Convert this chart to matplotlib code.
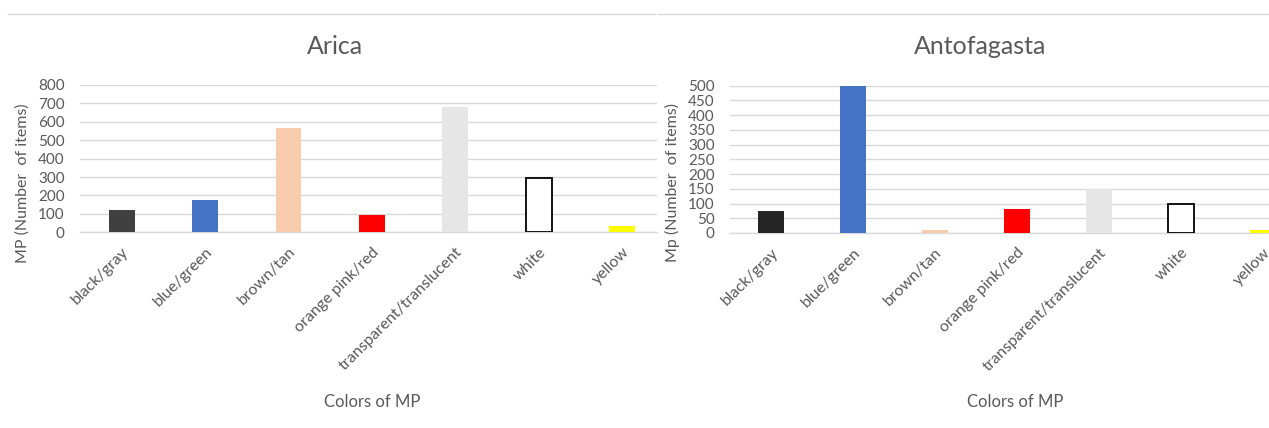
import matplotlib
matplotlib.use("Agg")
import matplotlib.pyplot as plt
from matplotlib.lines import Line2D

categories = ["black/gray", "blue/green", "brown/tan", "orange pink/red",
              "transparent/translucent", "white", "yellow"]
arica_values = [120, 175, 565, 96, 682, 293, 33]
antofagasta_values = [75, 500, 11, 80, 148, 100, 11]

arica_colors = ["#404040", "#4472C4", "#F8CBAD", "#FF0000", "#E7E6E6", "#FFFFFF", "#FFFF00"]
antof_colors = ["#262626", "#4472C4", "#F8CBAD", "#FF0000", "#E7E6E6", "#FFFFFF", "#FFFF00"]

W, H = 1269, 428
plt.rcParams['font.family'] = ['Lato', 'DejaVu Sans']
fig = plt.figure(figsize=(W / 100, H / 100), dpi=100)
fig.patch.set_facecolor("white")

TXT = "#595959"
GRID = "#D9D9D9"


def px_axes(x0, x1, ytop, ybot):
    return fig.add_axes([x0 / W, (H - ybot) / H, (x1 - x0) / W, (ybot - ytop) / H])


def draw(ax, values, colors, ymax, step, spacing, title, ylabel, title_x, xlabel_x, ylabel_x):
    x = list(range(len(categories)))
    bw = 0.31
    for xi, v, c in zip(x, values, colors):
        if c == "#FFFFFF":
            ax.bar(xi, v, width=bw, color="white", edgecolor="black", linewidth=1.3, zorder=3)
        else:
            ax.bar(xi, v, width=bw, color=c, zorder=3)
    width_px = ax.get_position().width * W
    ax.set_xlim(-0.5, -0.5 + width_px / spacing)
    ax.set_ylim(0, ymax)
    ax.set_yticks(range(0, ymax + 1, step))
    ax.yaxis.grid(True, color=GRID, linewidth=1.0, zorder=0)
    ax.set_axisbelow(True)
    for s in ["top", "right", "left"]:
        ax.spines[s].set_visible(False)
    ax.spines["bottom"].set_color(GRID)
    ax.spines["bottom"].set_linewidth(1.0)
    ax.tick_params(axis="both", length=0, colors=TXT)
    ax.tick_params(axis="y", labelsize=11, pad=11)
    ax.set_xticks(x)
    ax.set_xticklabels(categories, rotation=45, ha="right", va="top",
                       rotation_mode="anchor", fontsize=11.5, color=TXT)
    ax.tick_params(axis="x", pad=9)
    fig.text(title_x / W, 1 - 47 / H, title, ha="center", va="center", fontsize=18, color=TXT)
    fig.text(xlabel_x / W, 1 - 402 / H, "Colors of MP", ha="center", va="center", fontsize=12, color=TXT)
    fig.text(ylabel_x / W, 1 - 183 / H, ylabel, ha="center", va="center", rotation=90,
             fontsize=11.5, color=TXT)


ax1 = px_axes(80, 657, 85.0, 232.3)
draw(ax1, arica_values, arica_colors, 800, 100, 83.4, "Arica", "MP (Number  of items)", 335, 372, 23)

ax2 = px_axes(730, 1269, 85.7, 233.0)
draw(ax2, antofagasta_values, antof_colors, 500, 50, 82.0, "Antofagasta", "Mp (Number  of items)", 980, 1015, 672)

# top chart borders
fig.add_artist(Line2D([8 / W, 655 / W], [1 - 13.5 / H, 1 - 13.5 / H], color=GRID, linewidth=1.0))
fig.add_artist(Line2D([658 / W, 1269 / W], [1 - 14 / H, 1 - 14 / H], color=GRID, linewidth=1.0))

fig.savefig("out.png", dpi=100, facecolor="white")
